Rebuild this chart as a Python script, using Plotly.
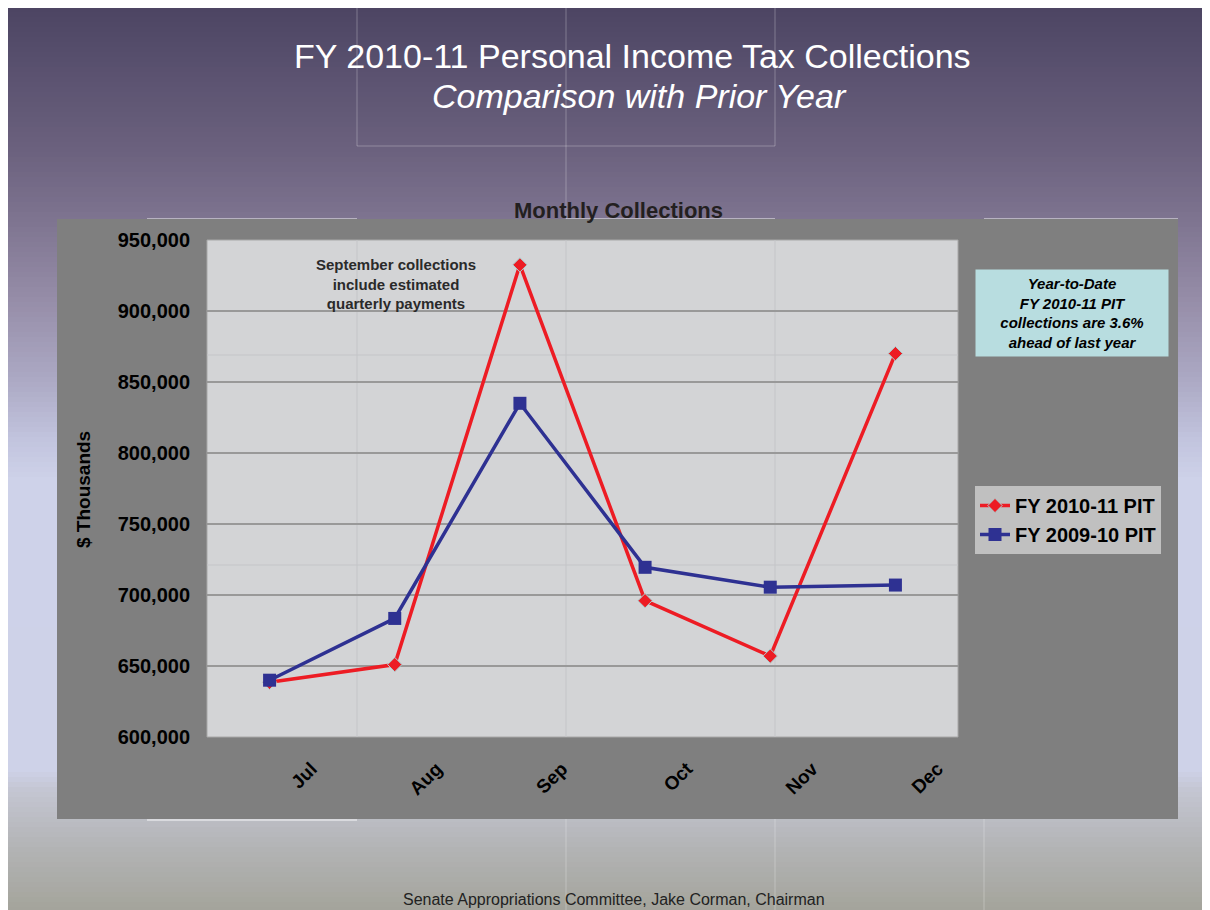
import plotly.graph_objects as go

# ---------------- data ----------------
months = ["Jul", "Aug", "Sep", "Oct", "Nov", "Dec"]
fy_2010_11 = [638500, 651000, 932500, 696000, 657000, 870000]
fy_2009_10 = [640000, 683500, 835000, 719500, 705500, 707000]
y_tick_vals = [600000, 650000, 700000, 750000, 800000, 850000, 900000, 950000]

# ---------------- geometry helpers (reference pixels -> paper) ----------------
OFF = 8                      # page body margin
W, H = 1210 - OFF, 910 - OFF
L, R, T, B = 207 - OFF, 958 - OFF, 240 - OFF, 737 - OFF


def px(x):
    return (x - OFF - L) / (R - L)


def py(y):
    return (B - (y - OFF)) / (B - T)


def hex2rgb(h):
    h = h.lstrip("#")
    return tuple(int(h[i:i + 2], 16) for i in (0, 2, 4))


def mix(c1, c2, t):
    a, b = hex2rgb(c1), hex2rgb(c2)
    return "rgb(%d,%d,%d)" % tuple(round(a[i] + (b[i] - a[i]) * t) for i in range(3))


grad_stops = [(7, "#4c4563"), (150, "#6b617e"), (220, "#7e7490"), (300, "#968da8"),
              (380, "#aca9c4"), (440, "#c2c4de"), (480, "#ced2e9"), (770, "#ced2e8"),
              (790, "#c4c6d2"), (850, "#b2b3b4"), (910, "#a4a49b")]


def grad_color(y):
    for (y0, c0), (y1, c1) in zip(grad_stops[:-1], grad_stops[1:]):
        if y0 <= y <= y1:
            return mix(c0, c1, (y - y0) / (y1 - y0))
    return grad_stops[-1][1]


shapes = []
step = 5
yy = 7
while yy < 910:
    y2 = min(yy + step, 910)
    shapes.append(dict(type="rect", xref="paper", yref="paper", layer="below",
                       x0=px(5), x1=px(1215), y0=py(y2 + 0.5), y1=py(yy),
                       fillcolor=grad_color((yy + y2) / 2), line=dict(width=0)))
    yy = y2

faint = "rgba(255,255,255,0.28)"


def seg(x0, y0, x1, y1, color=faint, w=1):
    shapes.append(dict(type="line", xref="paper", yref="paper", layer="below",
                       x0=px(x0), x1=px(x1), y0=py(y0), y1=py(y1),
                       line=dict(color=color, width=w)))


# faint slide lines
seg(566, 7, 566, 910)
seg(357, 7, 357, 146)
seg(775, 7, 775, 146)
seg(357, 146, 775, 146)
seg(775, 819, 775, 910)
seg(984, 819, 984, 910)
seg(147, 219, 357, 219, "rgba(255,255,255,0.6)", 1.5)
seg(566, 219, 775, 219, "rgba(255,255,255,0.6)", 1.5)
seg(984, 219, 1178, 219, "rgba(255,255,255,0.6)", 1.5)
seg(147, 820, 357, 820, "rgba(255,255,255,0.6)", 1.5)

# chart area
shapes.append(dict(type="rect", xref="paper", yref="paper", layer="below",
                   x0=px(57), x1=px(1178), y0=py(819), y1=py(219),
                   fillcolor="#7f7f7f", line=dict(width=0)))
# plot area
shapes.append(dict(type="rect", xref="paper", yref="paper", layer="below",
                   x0=0, x1=1, y0=0, y1=1,
                   fillcolor="#d3d4d6", line=dict(color="#a8a8a8", width=1)))
# faint lines in plot area
for xv in (357, 566, 775):
    shapes.append(dict(type="line", xref="paper", yref="paper", layer="below",
                       x0=px(xv), x1=px(xv), y0=0, y1=1,
                       line=dict(color="#c4c5c8", width=1)))
for yv in (355, 565):
    shapes.append(dict(type="line", xref="paper", yref="paper", layer="below",
                       x0=0, x1=1, y0=py(yv), y1=py(yv),
                       line=dict(color="#c4c5c8", width=1)))

# ---------------- traces ----------------
fig = go.Figure()
fig.add_trace(go.Scatter(
    x=months, y=fy_2010_11, name="FY 2010-11 PIT", mode="lines+markers",
    line=dict(color="#ed1c24", width=3.5),
    marker=dict(symbol="diamond", size=11, color="#ed1c24",
                line=dict(color="#a9d3d3", width=1))))
fig.add_trace(go.Scatter(
    x=months, y=fy_2009_10, name="FY 2009-10 PIT", mode="lines+markers",
    line=dict(color="#2e3192", width=3.5),
    marker=dict(symbol="square", size=13, color="#2e3192")))

fam = "Liberation Sans, Arial, sans-serif"

annotations = [
    dict(text="FY 2010-11 Personal Income Tax Collections", x=px(632), y=py(56),
         font=dict(family=fam, size=34, color="white")),
    dict(text="<i>Comparison with Prior Year</i>", x=px(639), y=py(96),
         font=dict(family=fam, size=34, color="white")),
    dict(text="<b>Monthly Collections</b>", x=px(618), y=py(211),
         font=dict(family=fam, size=22, color="#231f20")),
    dict(text="<b>September collections<br>include estimated<br>quarterly payments</b>",
         x=px(396), y=py(284), font=dict(family=fam, size=15, color="#2a2a2a")),
    dict(text="<b><i>Year-to-Date<br>FY 2010-11 PIT<br>collections are 3.6%<br>ahead of last year</i></b>",
         x=px(1072), y=py(313), width=190, height=84, bgcolor="#b8dde0", borderpad=1,
         font=dict(family=fam, size=15, color="black")),
    dict(text="Senate Appropriations Committee, Jake Corman, Chairman", x=px(614), y=py(899),
         font=dict(family=fam, size=16, color="#222222")),
    dict(text="<b>$ Thousands</b>", x=px(83), y=py(490), textangle=-90,
         font=dict(family=fam, size=19, color="black")),
]
for a in annotations:
    a.update(xref="paper", yref="paper", showarrow=False, xanchor="center", yanchor="middle")

fig.update_layout(
    width=W, height=H,
    margin=dict(l=L, r=W - R, t=T, b=H - B, autoexpand=False),
    paper_bgcolor="white", plot_bgcolor="rgba(0,0,0,0)",
    shapes=shapes, annotations=annotations,
    showlegend=True,
    legend=dict(x=px(975), y=py(486), xanchor="left", yanchor="top",
                bgcolor="#c0c0c0", font=dict(family=fam, size=20, color="black", weight="bold"),
                borderwidth=0, tracegroupgap=4),
    xaxis=dict(type="category", range=[-0.5, 5.5], showgrid=False, zeroline=False,
               showline=False, ticks="", tickangle=-45,
               tickfont=dict(family=fam, size=19, color="black", weight="bold"),
               ticklabelshift=42, ticklabelstandoff=16, fixedrange=True),
    yaxis=dict(range=[600000, 950000], tickvals=y_tick_vals, tickformat=",",
               showgrid=True, gridcolor="#999999", gridwidth=1.5, zeroline=False,
               showline=False, ticks="", ticklabelstandoff=16,
               tickfont=dict(family=fam, size=20, color="black", weight="bold"),
               fixedrange=True),
)

fig.write_html("out.html")
